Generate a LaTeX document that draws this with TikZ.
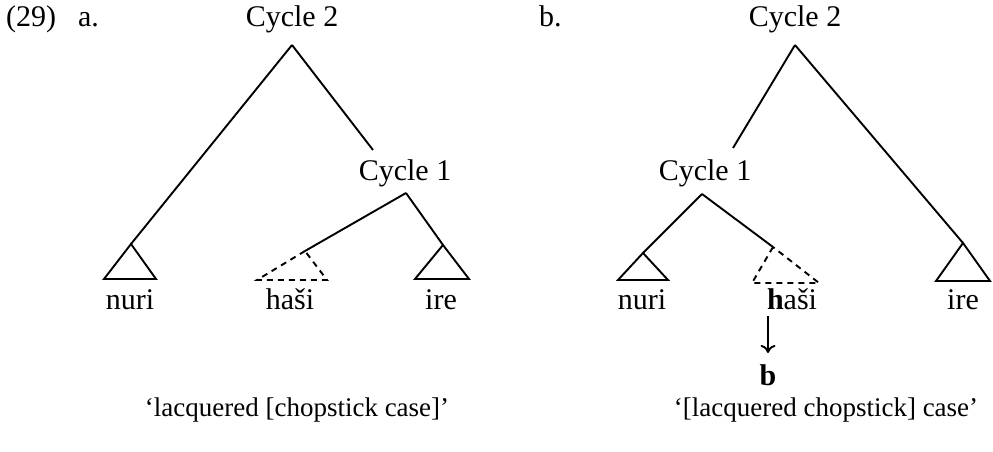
\documentclass[tikz,border=0pt]{standalone}
\usepackage{fontspec}
\setmainfont{Liberation Serif}
\usetikzlibrary{arrows.meta}
\tikzset{
  branch/.style={line width=1.9pt},
  dashbranch/.style={line width=1.9pt, dash pattern=on 6pt off 5pt},
  word/.style={anchor=base, inner sep=0pt, font=\fontsize{30}{36}\selectfont},
  gloss/.style={anchor=base, inner sep=0pt, font=\fontsize{27}{32}\selectfont},
}
\begin{document}
\begin{tikzpicture}[x=1pt, y=-1pt]
    \useasboundingbox (0,0) rectangle (993,452);

    % Example number and part labels
    \node[word, anchor=base west] (num) at (6,27) {(29)\hspace{22pt}a.};
    \node[word, anchor=base west] (partb) at (539,27) {b.};

    % Tree a: cycle labels and branch points
    \node[word] (cycA2) at (292,27) {Cycle 2};
    \node[word] (cycA1) at (405,180) {Cycle 1};
    \coordinate (topA2) at (292,45);
    \coordinate (endA2) at (373,150);
    \coordinate (topA1) at (406,193);
    \coordinate (nuriA) at (131,244);
    \coordinate (hasiA) at (305,251);
    \coordinate (ireA) at (443,245);

    % Tree a: branches
    \draw[branch] (topA2) -- (nuriA);
    \draw[branch] (topA2) -- (endA2);
    \draw[branch] (topA1) -- (hasiA);
    \draw[branch] (topA1) -- (ireA);

    % Tree a: triangles
    \draw[branch] (nuriA) -- (104,279) -- (156,279) -- cycle;
    \draw[dashbranch] (hasiA) -- (257,280) -- (327,280) -- cycle;
    \draw[branch] (ireA) -- (415,279) -- (469,279) -- cycle;

    % Tree a: words and gloss
    \node[word] (wnuriA) at (130,309) {nuri};
    \node[word] (whasiA) at (290,309) {haši};
    \node[word] (wireA) at (441,309) {ire};
    \node[gloss] (glossA) at (297,416) {‘lacquered [chopstick case]’};

    % Tree b: cycle labels and branch points
    \node[word] (cycB2) at (795,27) {Cycle 2};
    \node[word] (cycB1) at (705,180) {Cycle 1};
    \coordinate (topB2) at (795,45);
    \coordinate (endB2) at (733,148);
    \coordinate (topB1) at (702,194);
    \coordinate (nuriB) at (643,253);
    \coordinate (hasiB) at (773,247);
    \coordinate (ireB) at (963,243);

    % Tree b: branches
    \draw[branch] (topB2) -- (endB2);
    \draw[branch] (topB2) -- (ireB);
    \draw[branch] (topB1) -- (nuriB);
    \draw[branch] (topB1) -- (hasiB);

    % Tree b: triangles
    \draw[branch] (nuriB) -- (618,280) -- (668,280) -- cycle;
    \draw[dashbranch] (hasiB) -- (752,283) -- (819,283) -- cycle;
    \draw[branch] (ireB) -- (936,281) -- (990,281) -- cycle;

    % Tree b: words, arrow and gloss
    \node[word] (wnuriB) at (642,309) {nuri};
    \node[word] (whasiB) at (792,309) {\textbf{h}aši};
    \node[word] (wireB) at (963,309) {ire};
    \node[word] (bold) at (768,385) {\textbf{b}};
    \coordinate (arrtop) at (768,316);
    \draw[line width=1.9pt, -{To[length=8pt,width=15pt]}] (arrtop) -- ([yshift=11pt]bold.north);
    \node[gloss] (glossB) at (826,416) {‘[lacquered chopstick] case’};
\end{tikzpicture}
\end{document}
